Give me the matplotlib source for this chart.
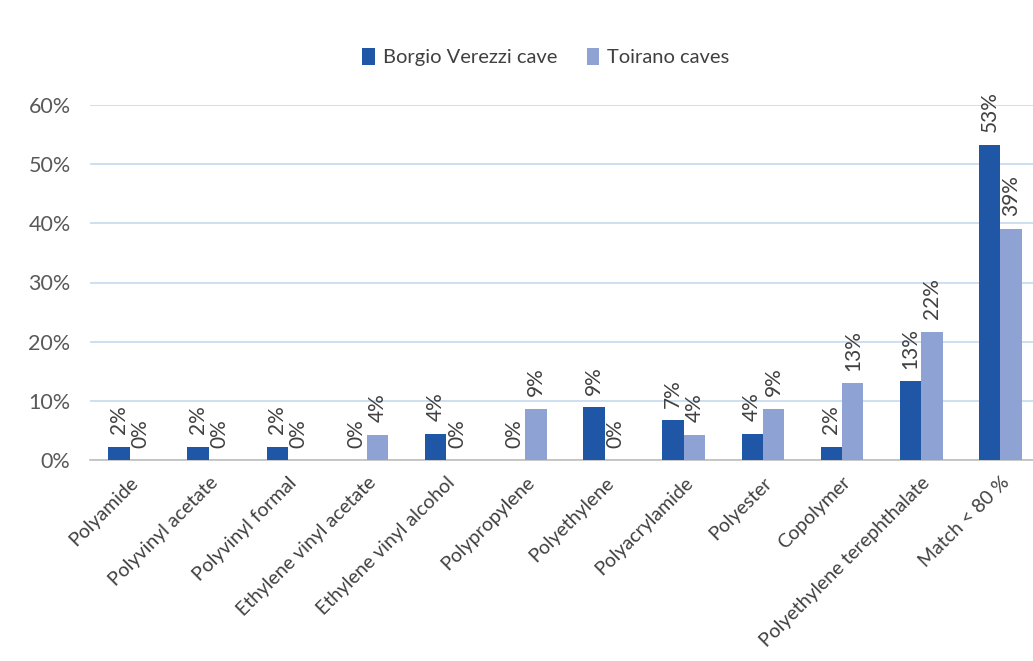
import matplotlib.pyplot as plt
import numpy as np

categories = ["Polyamide", "Polyvinyl acetate", "Polyvinyl formal",
              "Ethylene vinyl acetate", "Ethylene vinyl alcohol", "Polypropylene",
              "Polyethylene", "Polyacrylamide", "Polyester", "Copolymer",
              "Polyethylene terephthalate", "Match < 80 %"]
borgio = [0.022, 0.022, 0.022, 0.0, 0.044, 0.0, 0.089, 0.067, 0.044, 0.022, 0.133, 0.533]
toirano = [0.0, 0.0, 0.0, 0.043, 0.0, 0.087, 0.0, 0.043, 0.087, 0.130, 0.217, 0.391]
series_names = ["Borgio Verezzi cave", "Toirano caves"]
yticks = [0.0, 0.1, 0.2, 0.3, 0.4, 0.5, 0.6]

plt.rcParams['font.family'] = ['Lato', 'DejaVu Sans']

fig = plt.figure(figsize=(10.33, 6.61), dpi=100)
ax = fig.add_axes([90/1033, 1-460/661, 950/1033, 355/661])

x = np.arange(len(categories))
w = 0.27
dark = "#1f56a5"
light = "#8ea2d3"
b1 = ax.bar(x - w/2, borgio, w, color=dark, label=series_names[0], zorder=3)
b2 = ax.bar(x + w/2, toirano, w, color=light, label=series_names[1], zorder=3)

# value labels, rotated like the original
for bars, vals in [(b1, borgio), (b2, toirano)]:
    for r, v in zip(bars, vals):
        ax.annotate(f"{v*100:.0f}%", (r.get_x() + r.get_width()/2, v),
                    xytext=(0, 9), textcoords="offset points",
                    rotation=90, ha="center", va="bottom",
                    fontsize=15, color="#404040")

ax.set_xlim(-0.5, len(categories) - 0.5)
ax.set_ylim(0, 0.6)
ax.set_yticks(yticks)
ax.set_yticklabels([f"{t*100:.0f}%" for t in yticks], fontsize=15.5, color="#595959")
ax.set_xticks(x)
ax.set_xticklabels(categories, rotation=45, ha="right", rotation_mode="anchor",
                   fontsize=14, color="#404040")
ax.tick_params(axis="x", length=0, pad=10)
ax.tick_params(axis="y", length=0, pad=14)

ax.grid(axis="y", color="#c6d9f0", linewidth=1.2, zorder=0)
for s in ["top", "right", "left"]:
    ax.spines[s].set_visible(False)
ax.spines["bottom"].set_color("#bfbfbf")
ax.spines["bottom"].set_linewidth(1.2)

fig.legend(loc="center", bbox_to_anchor=(546/1033, 1-57/661), ncol=2, frameon=False,
           fontsize=14.5, handlelength=0.6, handleheight=0.9, columnspacing=1.5,
           handletextpad=0.4, labelcolor="#404040")

fig.savefig("out.png", dpi=100)
